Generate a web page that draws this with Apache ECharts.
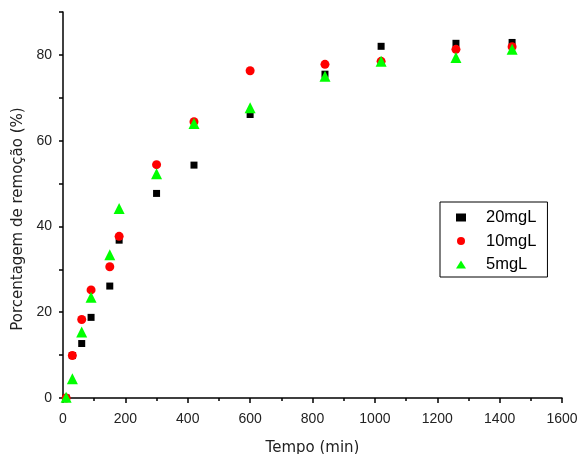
<!DOCTYPE html>
<html lang="pt">
<head>
    <meta charset="UTF-8">
    <script src="https://cdn.jsdelivr.net/npm/echarts@6/dist/echarts.min.js"></script>
    <title>Remoção x Tempo</title>
    <style>
        html, body { margin: 0; padding: 0; background: #fff; }
    </style>
</head>
<body>
<div id="main" style="width: 578px;height:454px;"></div>

<script type="text/javascript">

    // tempo de contato (min)
    var tempo = [10, 30, 60, 90, 150, 180, 300, 420, 600, 840, 1020, 1260, 1440];

    // porcentagem de remoção (%) para cada concentração
    var rem20 = [0, 9.9, 12.7, 18.8, 26.1, 36.8, 47.7, 54.3, 66.1, 75.5, 82.0, 82.7, 82.9];
    var rem10 = [0, 9.9, 18.3, 25.2, 30.6, 37.7, 54.4, 64.4, 76.3, 77.8, 78.5, 81.3, 81.9];
    var rem5  = [0.2, 4.5, 15.4, 23.5, 33.4, 44.2, 52.3, 64.0, 67.7, 75.0, 78.5, 79.4, 81.3];

    var nomes = ['20mgL', '10mgL', '5mgL'];

    function pares(xs, ys) {
        var out = [];
        for (var i = 0; i < xs.length; i++) {
            out.push([xs[i], ys[i]]);
        }
        return out;
    }

    var myChart = echarts.init(document.getElementById('main'));

    var eixoTexto = { color: '#222', fontFamily: 'Liberation Sans', fontSize: 14 };
    var tituloTexto = { color: '#222', fontFamily: 'DejaVu Sans', fontSize: 15 };

    var option = {
        backgroundColor: '#fff',
        animation: false,
        grid: { left: 63, right: 16, top: 12, bottom: 56, outerBoundsMode: 'none', containLabel: false },
        legend: {
            orient: 'vertical',
            left: 440,
            top: 202,
            padding: [7, 11, 4, 16],
            itemWidth: 10,
            itemHeight: 8,
            itemGap: 6.5,
            borderColor: '#000',
            borderWidth: 1,
            borderRadius: 0,
            textStyle: {
                color: '#000', fontFamily: 'Liberation Sans', fontSize: 16.5, lineHeight: 16,
                padding: [0, 0, 0, 15]
            },
            data: [
                { name: nomes[0], icon: 'rect', itemStyle: { opacity: 1 } },
                { name: nomes[1], icon: 'circle', itemStyle: { opacity: 1 } },
                { name: nomes[2], icon: 'triangle', itemStyle: { opacity: 1 } }
            ]
        },
        xAxis: {
            type: 'value',
            min: 0,
            max: 1600,
            interval: 200,
            name: 'Tempo (min)',
            nameLocation: 'middle',
            nameGap: 43,
            nameTextStyle: tituloTexto,
            axisLine: { lineStyle: { color: '#000', width: 1.5 } },
            axisTick: { show: true, length: 5, lineStyle: { color: '#000', width: 1.5 } },
            minorTick: { show: true, splitNumber: 2, length: 3, lineStyle: { color: '#000', width: 1.5 } },
            axisLabel: Object.assign({
                margin: 14,
                formatter: function (v) { return String(v); }
            }, eixoTexto),
            splitLine: { show: false }
        },
        yAxis: {
            type: 'value',
            min: 0,
            max: 90,
            interval: 10,
            name: 'Porcentagem de remoção (%)',
            nameLocation: 'middle',
            nameGap: 35,
            nameTextStyle: Object.assign({ padding: [0, 28, 0, 0] }, tituloTexto),
            axisLine: { show: true, lineStyle: { color: '#000', width: 1.5 } },
            axisTick: { show: true, length: 4, lineStyle: { color: '#000', width: 1.5 } },
            axisLabel: Object.assign({
                margin: 11,
                formatter: function (v) { return v % 20 === 0 ? String(v) : ''; }
            }, eixoTexto),
            splitLine: { show: false }
        },
        series: [
            {
                name: nomes[0],
                type: 'scatter',
                symbol: 'rect',
                symbolSize: 7,
                itemStyle: { color: '#000', opacity: 1 },
                data: pares(tempo, rem20)
            },
            {
                name: nomes[1],
                type: 'scatter',
                symbol: 'circle',
                symbolSize: 9,
                itemStyle: { color: '#ff0000', opacity: 1 },
                data: pares(tempo, rem10)
            },
            {
                name: nomes[2],
                type: 'scatter',
                symbol: 'triangle',
                symbolSize: 11,
                itemStyle: { color: '#00ff00', opacity: 1 },
                data: pares(tempo, rem5)
            }
        ]
    };

    myChart.setOption(option);
</script>
</body>
</html>
